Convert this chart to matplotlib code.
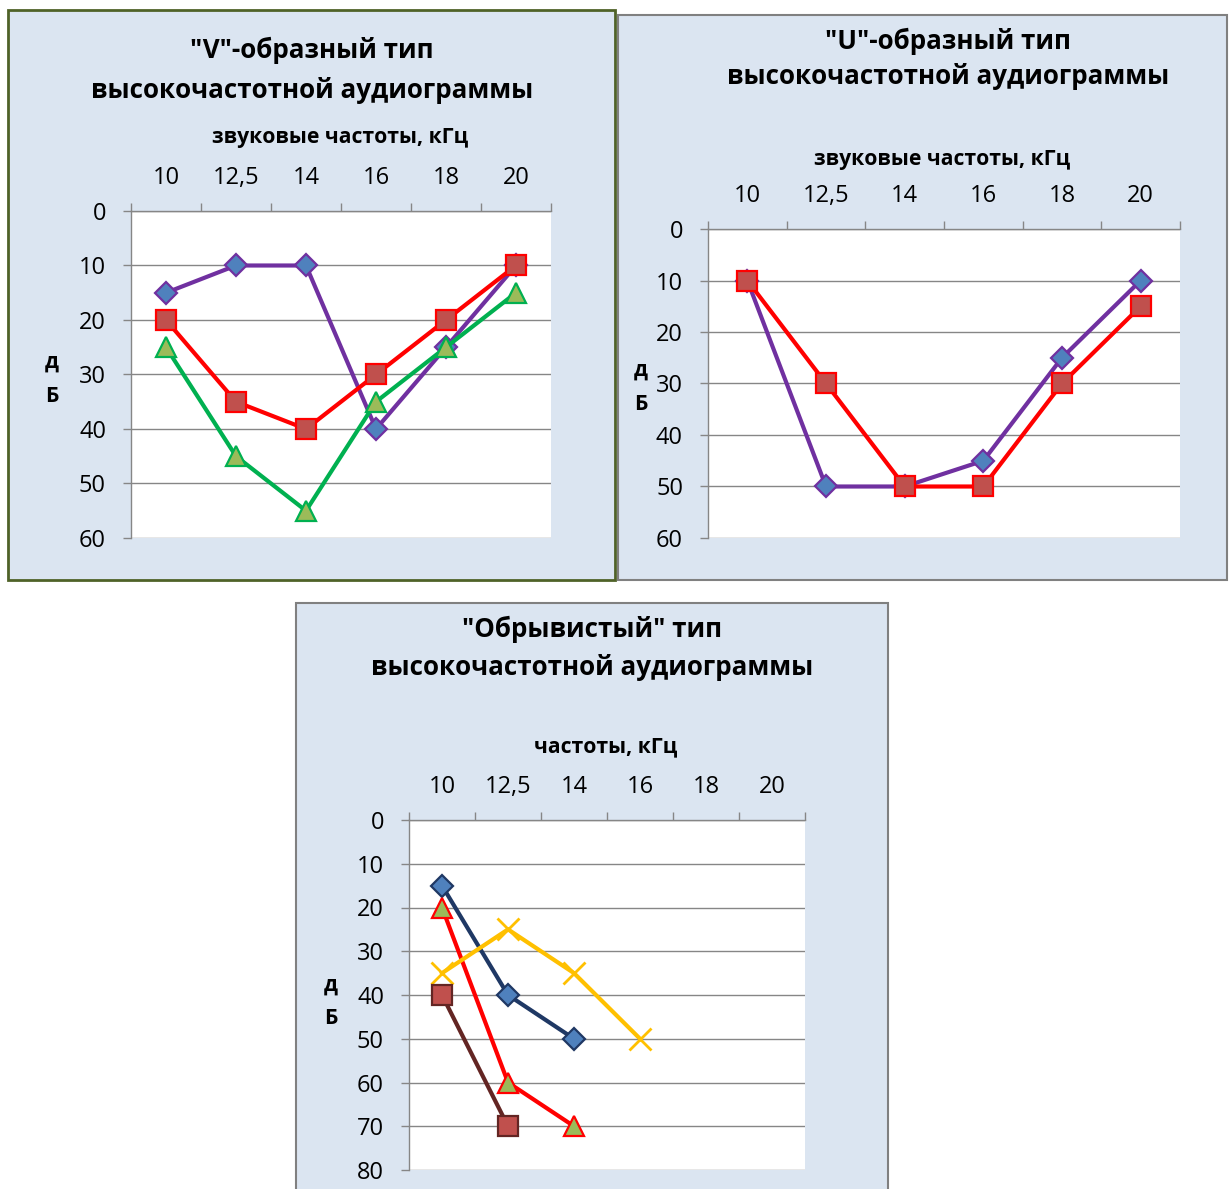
import matplotlib
matplotlib.use("Agg")
import matplotlib.pyplot as plt
from matplotlib.patches import Rectangle

plt.rcParams['font.family'] = ['Open Sans', 'DejaVu Sans']

W, H = 1229, 1189

# --- данные ---
freq_labels = ["10", "12,5", "14", "16", "18", "20"]

v_purple = [15, 10, 10, 40, 25, 10]
v_red = [20, 35, 40, 30, 20, 10]
v_green = [25, 45, 55, 35, 25, 15]

u_purple = [10, 50, 50, 45, 25, 10]
u_red = [10, 30, 50, 50, 30, 15]

o_navy = [15, 40, 50]
o_red = [20, 60, 70]
o_yellow = [35, 25, 35, 50]
o_brown = [40, 70]

BG = "#dbe5f1"
GRID = "#868686"
TITLE_FS = 18.7
LABEL_FS = 15.2
TICK_FS = 17

fig = plt.figure(figsize=(W / 100, H / 100), dpi=100)
fig.patch.set_facecolor("white")


def px_axes(x0, y0, x1, y1, **kw):
    return fig.add_axes([x0 / W, 1 - y1 / H, (x1 - x0) / W, (y1 - y0) / H], **kw)


def ftext(x, y, s, **kw):
    fig.text(x / W, 1 - y / H, s, ha="center", va="center", **kw)


def panel_box(x0, y0, x1, y1, edge, lw):
    fig.patches.append(Rectangle((x0 / W, 1 - y1 / H), (x1 - x0) / W, (y1 - y0) / H,
                                 transform=fig.transFigure, facecolor=BG,
                                 edgecolor=edge, linewidth=lw, zorder=-10))


def setup_axes(ax, ymax, xpad, ypad):
    ax.set_facecolor("white")
    ax.set_xlim(-0.5, 5.5)
    ax.set_ylim(ymax, 0)
    ax.xaxis.tick_top()
    ax.set_xticks([i - 0.5 for i in range(7)])
    ax.set_xticklabels([])
    ax.set_xticks(range(6), minor=True)
    ax.set_xticklabels(freq_labels, minor=True, fontsize=TICK_FS)
    ax.tick_params(axis="x", which="major", length=6, color=GRID, width=1, direction="out")
    ax.tick_params(axis="x", which="minor", length=0, pad=xpad, top=True, bottom=False)
    ax.set_yticks(range(0, ymax + 1, 10))
    ax.tick_params(axis="y", length=6, color=GRID, width=1, pad=ypad, labelsize=TICK_FS)
    ax.grid(axis="y", color=GRID, linewidth=1)
    ax.set_axisbelow(True)
    for s in ["right", "bottom"]:
        ax.spines[s].set_visible(False)
    for s in ["left", "top"]:
        ax.spines[s].set_color(GRID)
        ax.spines[s].set_linewidth(1)


def series(ax, vals, line, face, edge, marker, ms):
    ax.plot(range(len(vals)), vals, color=line, linewidth=3, marker=marker,
            markersize=ms, markerfacecolor=face, markeredgecolor=edge,
            markeredgewidth=1.6, clip_on=False)


# ---------- "V"-образный ----------
panel_box(8, 10, 615, 580, "#4f6228", 2)
ax1 = px_axes(131, 211, 551, 538)
setup_axes(ax1, 60, 15, 12)
series(ax1, v_purple, "#7030a0", "#4f81bd", "#7030a0", "D", 11)
series(ax1, v_red, "#ff0000", "#c0504d", "#ff0000", "s", 14)
series(ax1, v_green, "#00b050", "#9bbb59", "#00b050", "^", 14)
ftext(312, 50, '"V"-образный тип', fontsize=TITLE_FS, fontweight="bold")
ftext(312, 90, "высокочастотной аудиограммы", fontsize=TITLE_FS, fontweight="bold")
ftext(340, 138, "звуковые частоты, кГц", fontsize=LABEL_FS, fontweight="bold")
ftext(52, 362, "д", fontsize=LABEL_FS, fontweight="bold")
ftext(52, 397, "Б", fontsize=LABEL_FS, fontweight="bold")

# ---------- "U"-образный ----------
panel_box(618, 15, 1227, 580, "#808080", 1.5)
ax2 = px_axes(708, 229, 1180, 538)
setup_axes(ax2, 60, 15, 12)
series(ax2, u_purple, "#7030a0", "#4f81bd", "#7030a0", "D", 11)
series(ax2, u_red, "#ff0000", "#c0504d", "#ff0000", "s", 14)
ftext(948, 41, '"U"-образный тип', fontsize=TITLE_FS, fontweight="bold")
ftext(948, 77, "высокочастотной аудиограммы", fontsize=TITLE_FS, fontweight="bold")
ftext(942, 160, "звуковые частоты, кГц", fontsize=LABEL_FS, fontweight="bold")
ftext(641, 370, "д", fontsize=LABEL_FS, fontweight="bold")
ftext(641, 405, "Б", fontsize=LABEL_FS, fontweight="bold")

# ---------- "Обрывистый" ----------
panel_box(296, 603, 888, 1200, "#808080", 1.5)
ax3 = px_axes(409, 820, 805, 1170)
setup_axes(ax3, 80, 15, 12)
series(ax3, o_navy, "#1f3864", "#4f81bd", "#1f3864", "D", 11)
series(ax3, o_red, "#ff0000", "#9bbb59", "#ff0000", "^", 14)
ax3.plot(range(len(o_yellow)), o_yellow, color="#ffc000", linewidth=3, marker="x",
         markersize=16, markeredgewidth=2, clip_on=False)
series(ax3, o_brown, "#632523", "#c0504d", "#632523", "s", 14)
ftext(592, 629, '"Обрывистый" тип', fontsize=TITLE_FS, fontweight="bold")
ftext(592, 667, "высокочастотной аудиограммы", fontsize=TITLE_FS, fontweight="bold")
ftext(606, 747, "частоты, кГц", fontsize=LABEL_FS, fontweight="bold")
ftext(331, 985, "д", fontsize=LABEL_FS, fontweight="bold")
ftext(331, 1019, "Б", fontsize=LABEL_FS, fontweight="bold")

fig.savefig("out.png", dpi=100)
